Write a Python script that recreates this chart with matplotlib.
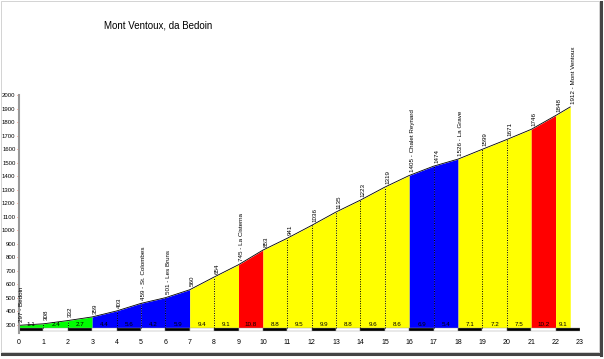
import numpy as np
import matplotlib
matplotlib.use("Agg")
import matplotlib.pyplot as plt
from matplotlib.patches import Rectangle
from matplotlib.lines import Line2D

# profile data
km = [0, 1, 2, 3, 4, 5, 6, 7, 8, 9, 10, 11, 12, 13, 14, 15, 16, 17, 18, 19, 20, 21, 22, 22.6]
quota = [297, 308, 332, 359, 403, 459, 501, 560, 654, 745, 853, 941, 1036, 1135,
         1223, 1319, 1405, 1474, 1526, 1599, 1671, 1746, 1848, 1912]
nomi = {0: "Bedoin", 5: "St. Colombes", 6: "Les Bruns", 9: "La Cisterna",
        16: "Chalet Reynard", 18: "La Grave", 23: "Mont Ventoux"}
pendenza = ["1.1", "2.4", "2.7", "4.4", "5.6", "4.2", "5.9", "9.4", "9.1", "10.8",
            "8.8", "9.5", "9.9", "8.8", "9.6", "8.6", "6.9", "5.4", "7.1", "7.2",
            "7.5", "10.2", "9.1"]
colori = ["#00ff00"] * 3 + ["#0000ff"] * 4 + ["#ffff00"] * 2 + ["#ff0000"] + \
         ["#ffff00"] * 6 + ["#0000ff"] * 2 + ["#ffff00"] * 3 + ["#ff0000", "#ffff00"]

base = 280
fig = plt.figure(figsize=(6.04, 3.59), dpi=100)
ax = fig.add_axes([19 / 604, 26 / 359, 561 / 604, 238 / 359])
ax.set_xlim(0, 23)
ax.set_ylim(240, 2000)

# colored segments
for i in range(len(km) - 1):
    ax.fill_between([km[i], km[i + 1]], [quota[i], quota[i + 1]], base,
                    color=colori[i], lw=0)
    ax.text((km[i] + km[i + 1]) / 2, base + 4, pendenza[i], ha="center", va="bottom",
            fontsize=4.5, family="Liberation Sans")
    # dotted line inside same-colour areas
    if i > 0 and colori[i] == colori[i - 1]:
        ax.plot([km[i], km[i]], [base, quota[i]], color="black", ls=(0, (1, 1.5)), lw=0.7)

ax.plot(km, quota, color="black", lw=0.6)

# elevation labels
for i, (x, q) in enumerate(zip(km, quota)):
    s = str(q)
    key = 23 if i == len(km) - 1 else i
    if key in nomi:
        s = s + " - " + nomi[key]
    ax.text(x + 0.12, q + 25, s, rotation=90, ha="center", va="bottom",
            fontsize=4.5, family="Liberation Sans", clip_on=False)

# black/white distance bar
for k in range(23):
    ax.add_patch(Rectangle((k, 252), 1, 26, facecolor="black" if k % 2 == 0 else "white",
                           edgecolor="#999999", lw=0.3))

ax.set_yticks(range(300, 2001, 100))
ax.set_xticks(range(0, 24))
ax.tick_params(axis="y", colors="#ff6040", length=1.5, width=0.6, labelsize=4.3, pad=1,
               labelcolor="black")
ax.tick_params(axis="x", length=0, labelsize=5, pad=4)
for lab in ax.get_xticklabels() + ax.get_yticklabels():
    lab.set_family("Liberation Sans")
for s in ["top", "right", "bottom"]:
    ax.spines[s].set_visible(False)
ax.spines["left"].set_color("#999999")
ax.spines["left"].set_linewidth(1.5)

fig.text(104 / 604, 1 - 26 / 359, "Mont Ventoux, da Bedoin", fontsize=7,
         family="Liberation Sans", va="center")

# frame with shadow
fig.add_artist(Rectangle((0.001, 1 - 352 / 359), 598 / 604, 351 / 359, transform=fig.transFigure,
                         fill=False, edgecolor="#cccccc", lw=0.6))
fig.add_artist(Line2D([601 / 604, 601 / 604], [1 - 355 / 359, 1 - 2 / 359],
                      transform=fig.transFigure, color="#444444", lw=2.2))
fig.add_artist(Line2D([2 / 604, 601 / 604], [1 - 354 / 359, 1 - 354 / 359],
                      transform=fig.transFigure, color="#444444", lw=2.2))

fig.savefig("out.png", dpi=100)
